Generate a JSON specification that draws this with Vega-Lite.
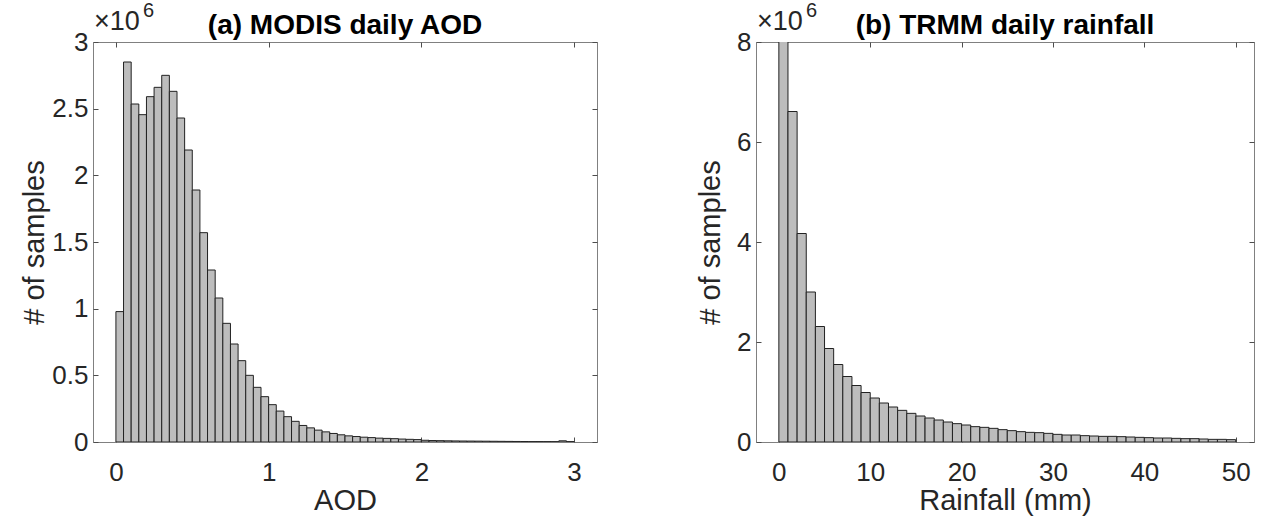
{
  "$schema": "https://vega.github.io/schema/vega-lite/v6.json",
  "background": "white",
  "padding": {"left": 20, "top": 0, "right": 5, "bottom": 0},
  "config": {
    "font": "Liberation Sans",
    "view": {"stroke": "#808080", "strokeWidth": 1},
    "axis": {
      "domain": false, "grid": false,
      "tickColor": "#4d4d4d", "tickSize": -5, "tickWidth": 1,
      "labelFont": "Liberation Sans", "labelFontSize": 26, "labelColor": "#262626",
      "titleFont": "Liberation Sans", "titleFontSize": 29, "titleFontWeight": "normal", "titleColor": "#262626"
    },
    "title": {"font": "Liberation Sans", "fontSize": 28, "fontWeight": "bold", "color": "#000000", "offset": 4, "dy": 43}
  },
  "datasets": {
    "aod": [
      {"aod_start": 0.00, "aod_end": 0.05, "count": 978000},
      {"aod_start": 0.05, "aod_end": 0.10, "count": 2850000},
      {"aod_start": 0.10, "aod_end": 0.15, "count": 2535000},
      {"aod_start": 0.15, "aod_end": 0.20, "count": 2455000},
      {"aod_start": 0.20, "aod_end": 0.25, "count": 2590000},
      {"aod_start": 0.25, "aod_end": 0.30, "count": 2660000},
      {"aod_start": 0.30, "aod_end": 0.35, "count": 2750000},
      {"aod_start": 0.35, "aod_end": 0.40, "count": 2630000},
      {"aod_start": 0.40, "aod_end": 0.45, "count": 2430000},
      {"aod_start": 0.45, "aod_end": 0.50, "count": 2190000},
      {"aod_start": 0.50, "aod_end": 0.55, "count": 1890000},
      {"aod_start": 0.55, "aod_end": 0.60, "count": 1570000},
      {"aod_start": 0.60, "aod_end": 0.65, "count": 1290000},
      {"aod_start": 0.65, "aod_end": 0.70, "count": 1080000},
      {"aod_start": 0.70, "aod_end": 0.75, "count": 890000},
      {"aod_start": 0.75, "aod_end": 0.80, "count": 735000},
      {"aod_start": 0.80, "aod_end": 0.85, "count": 610000},
      {"aod_start": 0.85, "aod_end": 0.90, "count": 500000},
      {"aod_start": 0.90, "aod_end": 0.95, "count": 410000},
      {"aod_start": 0.95, "aod_end": 1.00, "count": 340000},
      {"aod_start": 1.00, "aod_end": 1.05, "count": 280000},
      {"aod_start": 1.05, "aod_end": 1.10, "count": 232000},
      {"aod_start": 1.10, "aod_end": 1.15, "count": 190000},
      {"aod_start": 1.15, "aod_end": 1.20, "count": 155000},
      {"aod_start": 1.20, "aod_end": 1.25, "count": 124000},
      {"aod_start": 1.25, "aod_end": 1.30, "count": 106000},
      {"aod_start": 1.30, "aod_end": 1.35, "count": 89000},
      {"aod_start": 1.35, "aod_end": 1.40, "count": 76000},
      {"aod_start": 1.40, "aod_end": 1.45, "count": 64000},
      {"aod_start": 1.45, "aod_end": 1.50, "count": 54000},
      {"aod_start": 1.50, "aod_end": 1.55, "count": 46000},
      {"aod_start": 1.55, "aod_end": 1.60, "count": 41000},
      {"aod_start": 1.60, "aod_end": 1.65, "count": 36000},
      {"aod_start": 1.65, "aod_end": 1.70, "count": 33000},
      {"aod_start": 1.70, "aod_end": 1.75, "count": 29000},
      {"aod_start": 1.75, "aod_end": 1.80, "count": 27000},
      {"aod_start": 1.80, "aod_end": 1.85, "count": 25000},
      {"aod_start": 1.85, "aod_end": 1.90, "count": 22000},
      {"aod_start": 1.90, "aod_end": 1.95, "count": 20000},
      {"aod_start": 1.95, "aod_end": 2.00, "count": 18000},
      {"aod_start": 2.00, "aod_end": 2.05, "count": 13000},
      {"aod_start": 2.05, "aod_end": 2.10, "count": 11000},
      {"aod_start": 2.10, "aod_end": 2.15, "count": 10000},
      {"aod_start": 2.15, "aod_end": 2.20, "count": 9000},
      {"aod_start": 2.20, "aod_end": 2.25, "count": 8000},
      {"aod_start": 2.25, "aod_end": 2.30, "count": 7500},
      {"aod_start": 2.30, "aod_end": 2.35, "count": 7000},
      {"aod_start": 2.35, "aod_end": 2.40, "count": 6500},
      {"aod_start": 2.40, "aod_end": 2.45, "count": 6000},
      {"aod_start": 2.45, "aod_end": 2.50, "count": 5500},
      {"aod_start": 2.50, "aod_end": 2.55, "count": 5000},
      {"aod_start": 2.55, "aod_end": 2.60, "count": 4500},
      {"aod_start": 2.60, "aod_end": 2.65, "count": 4000},
      {"aod_start": 2.65, "aod_end": 2.70, "count": 3500},
      {"aod_start": 2.70, "aod_end": 2.75, "count": 3000},
      {"aod_start": 2.75, "aod_end": 2.80, "count": 3000},
      {"aod_start": 2.80, "aod_end": 2.85, "count": 2800},
      {"aod_start": 2.85, "aod_end": 2.90, "count": 2600},
      {"aod_start": 2.90, "aod_end": 2.95, "count": 9000},
      {"aod_start": 2.95, "aod_end": 3.00, "count": 3000}
    ],
    "rain": [
      {"rain_start": 0, "rain_end": 1, "count": 9500000},
      {"rain_start": 1, "rain_end": 2, "count": 6610000},
      {"rain_start": 2, "rain_end": 3, "count": 4170000},
      {"rain_start": 3, "rain_end": 4, "count": 3000000},
      {"rain_start": 4, "rain_end": 5, "count": 2310000},
      {"rain_start": 5, "rain_end": 6, "count": 1870000},
      {"rain_start": 6, "rain_end": 7, "count": 1550000},
      {"rain_start": 7, "rain_end": 8, "count": 1310000},
      {"rain_start": 8, "rain_end": 9, "count": 1130000},
      {"rain_start": 9, "rain_end": 10, "count": 990000},
      {"rain_start": 10, "rain_end": 11, "count": 880000},
      {"rain_start": 11, "rain_end": 12, "count": 780000},
      {"rain_start": 12, "rain_end": 13, "count": 700000},
      {"rain_start": 13, "rain_end": 14, "count": 633000},
      {"rain_start": 14, "rain_end": 15, "count": 573000},
      {"rain_start": 15, "rain_end": 16, "count": 520000},
      {"rain_start": 16, "rain_end": 17, "count": 480000},
      {"rain_start": 17, "rain_end": 18, "count": 440000},
      {"rain_start": 18, "rain_end": 19, "count": 400000},
      {"rain_start": 19, "rain_end": 20, "count": 367000},
      {"rain_start": 20, "rain_end": 21, "count": 340000},
      {"rain_start": 21, "rain_end": 22, "count": 307000},
      {"rain_start": 22, "rain_end": 23, "count": 293000},
      {"rain_start": 23, "rain_end": 24, "count": 273000},
      {"rain_start": 24, "rain_end": 25, "count": 247000},
      {"rain_start": 25, "rain_end": 26, "count": 227000},
      {"rain_start": 26, "rain_end": 27, "count": 207000},
      {"rain_start": 27, "rain_end": 28, "count": 193000},
      {"rain_start": 28, "rain_end": 29, "count": 187000},
      {"rain_start": 29, "rain_end": 30, "count": 173000},
      {"rain_start": 30, "rain_end": 31, "count": 153000},
      {"rain_start": 31, "rain_end": 32, "count": 140000},
      {"rain_start": 32, "rain_end": 33, "count": 140000},
      {"rain_start": 33, "rain_end": 34, "count": 127000},
      {"rain_start": 34, "rain_end": 35, "count": 120000},
      {"rain_start": 35, "rain_end": 36, "count": 113000},
      {"rain_start": 36, "rain_end": 37, "count": 113000},
      {"rain_start": 37, "rain_end": 38, "count": 107000},
      {"rain_start": 38, "rain_end": 39, "count": 100000},
      {"rain_start": 39, "rain_end": 40, "count": 93000},
      {"rain_start": 40, "rain_end": 41, "count": 87000},
      {"rain_start": 41, "rain_end": 42, "count": 80000},
      {"rain_start": 42, "rain_end": 43, "count": 80000},
      {"rain_start": 43, "rain_end": 44, "count": 73000},
      {"rain_start": 44, "rain_end": 45, "count": 67000},
      {"rain_start": 45, "rain_end": 46, "count": 67000},
      {"rain_start": 46, "rain_end": 47, "count": 60000},
      {"rain_start": 47, "rain_end": 48, "count": 53000},
      {"rain_start": 48, "rain_end": 49, "count": 53000},
      {"rain_start": 49, "rain_end": 50, "count": 47000}
    ]
  },
  "bounds": "flush",
  "spacing": 159,
  "hconcat": [
    {
      "width": 504, "height": 400,
      "title": {"text": "(a) MODIS daily AOD"},
      "resolve": {"axis": {"x": "independent", "y": "independent"}},
      "layer": [
        {
          "data": {"name": "aod"},
          "mark": {"type": "rect", "fill": "#bdbdbd", "stroke": "#222222", "strokeWidth": 1, "clip": true},
          "encoding": {
            "x": {"field": "aod_start", "type": "quantitative",
                  "scale": {"domain": [-0.15, 3.15], "nice": false, "zero": false},
                  "axis": {"values": [0, 1, 2, 3], "title": "AOD", "labelPadding": 22, "titlePadding": 1}},
            "x2": {"field": "aod_end"},
            "y": {"field": "count", "type": "quantitative",
                  "scale": {"domain": [0, 3000000], "nice": false},
                  "axis": {"values": [0, 500000, 1000000, 1500000, 2000000, 2500000, 3000000],
                           "labelExpr": "datum.value / 1000000", "title": "# of samples", "labelPadding": 10, "titlePadding": 2}},
            "y2": {"datum": 0}
          }
        },
        {
          "data": {"name": "aod"},
          "mark": {"type": "rect", "opacity": 0},
          "encoding": {
            "x": {"field": "aod_start", "type": "quantitative",
                  "axis": {"orient": "top", "values": [0, 1, 2, 3], "labels": false, "title": null}},
            "x2": {"field": "aod_end"},
            "y": {"field": "count", "type": "quantitative",
                  "axis": {"orient": "right", "values": [0, 500000, 1000000, 1500000, 2000000, 2500000, 3000000], "labels": false, "title": null}},
            "y2": {"datum": 0}
          }
        },
        {
          "data": {"values": [{"label": "×10"}]},
          "mark": {"type": "text", "align": "left", "baseline": "alphabetic", "dx": 1, "dy": -12, "fontSize": 27, "color": "#262626"},
          "encoding": {
            "x": {"datum": -0.15, "type": "quantitative", "axis": null},
            "y": {"datum": 3000000, "type": "quantitative", "axis": null},
            "text": {"field": "label"}
          }
        },
        {
          "data": {"values": [{"label": "6"}]},
          "mark": {"type": "text", "align": "left", "baseline": "alphabetic", "dx": 50, "dy": -25, "fontSize": 20, "color": "#262626"},
          "encoding": {
            "x": {"datum": -0.15, "type": "quantitative", "axis": null},
            "y": {"datum": 3000000, "type": "quantitative", "axis": null},
            "text": {"field": "label"}
          }
        }
      ]
    },
    {
      "width": 498, "height": 400,
      "title": {"text": "(b) TRMM daily rainfall"},
      "resolve": {"axis": {"x": "independent", "y": "independent"}},
      "layer": [
        {
          "data": {"name": "rain"},
          "mark": {"type": "rect", "fill": "#bdbdbd", "stroke": "#222222", "strokeWidth": 1, "clip": true},
          "encoding": {
            "x": {"field": "rain_start", "type": "quantitative",
                  "scale": {"domain": [-2.5, 52], "nice": false, "zero": false},
                  "axis": {"values": [0, 10, 20, 30, 40, 50], "title": "Rainfall (mm)", "labelPadding": 22, "titlePadding": 1}},
            "x2": {"field": "rain_end"},
            "y": {"field": "count", "type": "quantitative",
                  "scale": {"domain": [0, 8000000], "nice": false},
                  "axis": {"values": [0, 2000000, 4000000, 6000000, 8000000],
                           "labelExpr": "datum.value / 1000000", "title": "# of samples", "labelPadding": 10, "titlePadding": 11}},
            "y2": {"datum": 0}
          }
        },
        {
          "data": {"name": "rain"},
          "mark": {"type": "rect", "opacity": 0, "clip": true},
          "encoding": {
            "x": {"field": "rain_start", "type": "quantitative",
                  "axis": {"orient": "top", "values": [0, 10, 20, 30, 40, 50], "labels": false, "title": null}},
            "x2": {"field": "rain_end"},
            "y": {"field": "count", "type": "quantitative",
                  "axis": {"orient": "right", "values": [0, 2000000, 4000000, 6000000, 8000000], "labels": false, "title": null}},
            "y2": {"datum": 0}
          }
        },
        {
          "data": {"values": [{"label": "×10"}]},
          "mark": {"type": "text", "align": "left", "baseline": "alphabetic", "dx": 1, "dy": -12, "fontSize": 27, "color": "#262626"},
          "encoding": {
            "x": {"datum": -2.5, "type": "quantitative", "axis": null},
            "y": {"datum": 8000000, "type": "quantitative", "axis": null},
            "text": {"field": "label"}
          }
        },
        {
          "data": {"values": [{"label": "6"}]},
          "mark": {"type": "text", "align": "left", "baseline": "alphabetic", "dx": 50, "dy": -25, "fontSize": 20, "color": "#262626"},
          "encoding": {
            "x": {"datum": -2.5, "type": "quantitative", "axis": null},
            "y": {"datum": 8000000, "type": "quantitative", "axis": null},
            "text": {"field": "label"}
          }
        }
      ]
    }
  ]
}
